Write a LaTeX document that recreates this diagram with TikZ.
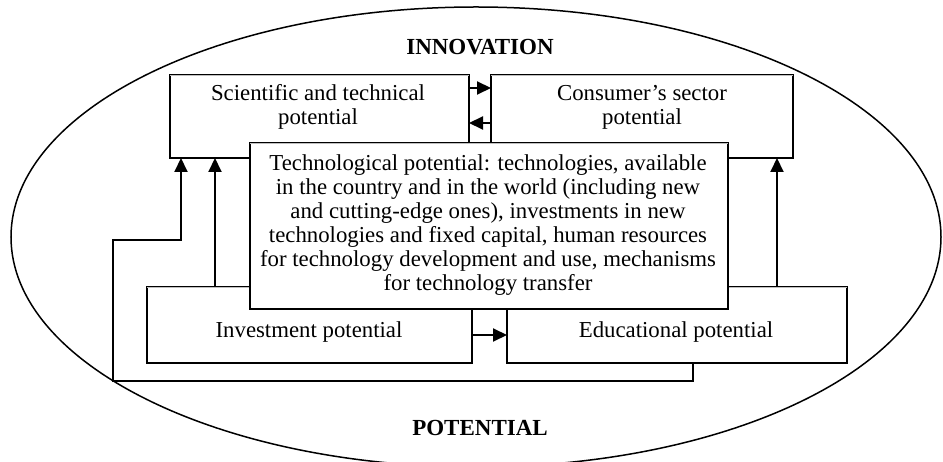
\documentclass[tikz,border=0pt]{standalone}
\usepackage{fontspec}
\setmainfont{Liberation Serif}
\usetikzlibrary{arrows.meta}

\tikzset{
	potbox/.style={draw=black,line width=1.3pt,fill=white,inner sep=0pt,outer sep=0pt},
	topline/.style={draw=black!25,line width=0.9pt},
	flow/.style={line width=2pt,-{Triangle[length=14pt,width=13pt]}},
	potlabel/.style={align=center,font=\fontsize{22.8}{24}\selectfont},
	headlabel/.style={font=\fontsize{23}{24}\selectfont\bfseries}
}

\begin{document}
\begin{tikzpicture}[x=1pt,y=-1pt]
	\useasboundingbox (0,0) rectangle (943,462);
	
	%OUTER ELLIPSE
	\draw[line width=1.5pt] (476,237) ellipse [x radius=465, y radius=230];
	\node[headlabel] (innov) at (480,47) {INNOVATION};
	\node[headlabel] (poten) at (480,428) {POTENTIAL};
	
	%BOXES
	\node[potbox,minimum width=299pt,minimum height=83pt] (sci) at (319.5,116.5) {};
	\node[potbox,minimum width=302pt,minimum height=83pt] (cons) at (642,116.5) {};
	\node[potbox,minimum width=325pt,minimum height=76pt] (inv) at (309.5,325) {};
	\node[potbox,minimum width=340pt,minimum height=76pt] (edu) at (677,325) {};
	\draw[topline] (sci.north west) -- (sci.north east);
	\draw[topline] (cons.north west) -- (cons.north east);
	\draw[topline] (inv.north west) -- (inv.north east);
	\draw[topline] (edu.north west) -- (edu.north east);
	
	\node[potlabel] (sciT) at (318,107) {Scientific and technical\\potential};
	\node[potlabel] (consT) at (642,107) {Consumer’s sector\\potential};
	\node[potlabel] (invT) at (309,332) {Investment potential};
	\node[potlabel] (eduT) at (676,332) {Educational potential};
	
	%MAIN ARROWS
	\draw[flow] ([xshift=68pt]inv.north west) -- ([xshift=45pt]sci.south west);
	\draw[flow] ([xshift=270pt]edu.north west) -- ([xshift=286pt]cons.south west);
	\draw[flow] ([yshift=-13pt]sci.north east) -- ([yshift=-13pt]cons.north west);
	\draw[flow] ([yshift=-48pt]cons.north west) -- ([yshift=-48pt]sci.north east);
	\draw[flow] ([yshift=-10pt]inv.east) -- ([yshift=-10pt]edu.west);
	
	%FEEDBACK LOOP
	\coordinate (loopB) at (113,381);
	\coordinate (loopT) at (113,240);
	\draw[flow] ([xshift=16pt]edu.south) |- (loopB) -- (loopT) -| ([xshift=11pt]sci.south west);
	
	%TECHNOLOGY BOX ON TOP
	\node[potbox,minimum width=478pt,minimum height=166pt] (tech) at (489,226) {};
	\draw[topline] (tech.north west) -- (tech.north east);
	\node[potlabel] (techT) at (488,225) {Technological potential: technologies, available\\in the country and in the world (including new\\and cutting-edge ones), investments in new\\technologies and fixed capital, human resources\\for technology development and use, mechanisms\\for technology transfer};
\end{tikzpicture}
\end{document}
